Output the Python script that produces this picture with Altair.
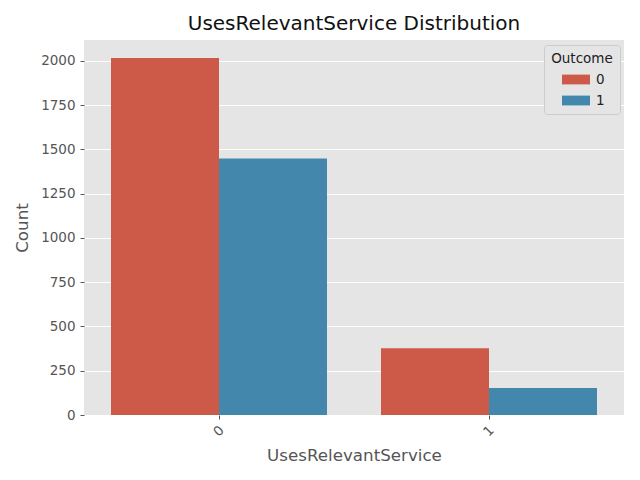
import altair as alt
import pandas as pd

categories = ["0", "0", "1", "1"]
outcomes = ["0", "1", "0", "1"]
counts = [2017, 1449, 377, 153]
y_ticks = [0, 250, 500, 750, 1000, 1250, 1500, 1750, 2000]

df = pd.DataFrame({"UsesRelevantService": categories, "Outcome": outcomes, "Count": counts})

font = "DejaVu Sans"
chart = alt.Chart(df).mark_bar().encode(
    x=alt.X("UsesRelevantService:N",
            scale=alt.Scale(paddingInner=0, paddingOuter=0),
            axis=alt.Axis(title="UsesRelevantService", labelAngle=-45, labelAlign="center",
                          labelBaseline="middle", labelPadding=12, grid=False, domain=False,
                          tickColor="#555555", tickSize=4, labelColor="#555555",
                          titleColor="#555555", titleFontSize=16.7, titleFontWeight="normal",
                          labelFontSize=13.5, titlePadding=9)),
    xOffset=alt.XOffset("Outcome:N", scale=alt.Scale(paddingInner=0, paddingOuter=0.25)),
    y=alt.Y("Count:Q", scale=alt.Scale(domain=[0, 2118], nice=False),
            axis=alt.Axis(title="Count", values=y_ticks, format="d", grid=True,
                          gridColor="#ffffff", gridOpacity=1, gridWidth=1, domain=False,
                          tickColor="#555555", zindex=0,
                          tickSize=4, labelColor="#555555", titleColor="#555555",
                          titleFontSize=16.7, titleFontWeight="normal", labelFontSize=13.5,
                          labelPadding=5, titlePadding=9)),
    color=alt.Color("Outcome:N",
                    scale=alt.Scale(domain=["0", "1"], range=["#CD5A48", "#4387AD"]),
                    legend=alt.Legend(title="Outcome", orient="none", legendX=460, legendY=5,
                                      fillColor="#e5e5e5", strokeColor="#cccccc", cornerRadius=3,
                                      padding=7, titleFontSize=13.5, titleFontWeight="normal",
                                      titleColor="#222222", labelFontSize=13.5, labelColor="#222222",
                                      symbolType="M-2,-0.7L2,-0.7L2,0.7L-2,0.7Z",
                                      symbolSize=196, symbolStrokeWidth=0, symbolOffset=9,
                                      labelOffset=13, rowPadding=7, titleAlign="center",
                                      titleAnchor="middle", titlePadding=7)),
).properties(
    width=540, height=375,
    title=alt.Title("UsesRelevantService Distribution", fontSize=20, fontWeight="normal",
                    color="#111111", offset=6),
    autosize=alt.AutoSizeParams(type="none"),
    padding={"left": 76, "top": 32, "right": 8, "bottom": 57},
).configure(font=font, background="white").configure_view(fill="#e5e5e5", stroke=None).configure_axis(gridColor="#ffffff")

chart.save("out.html", embed_options={"renderer": "svg", "actions": False})
